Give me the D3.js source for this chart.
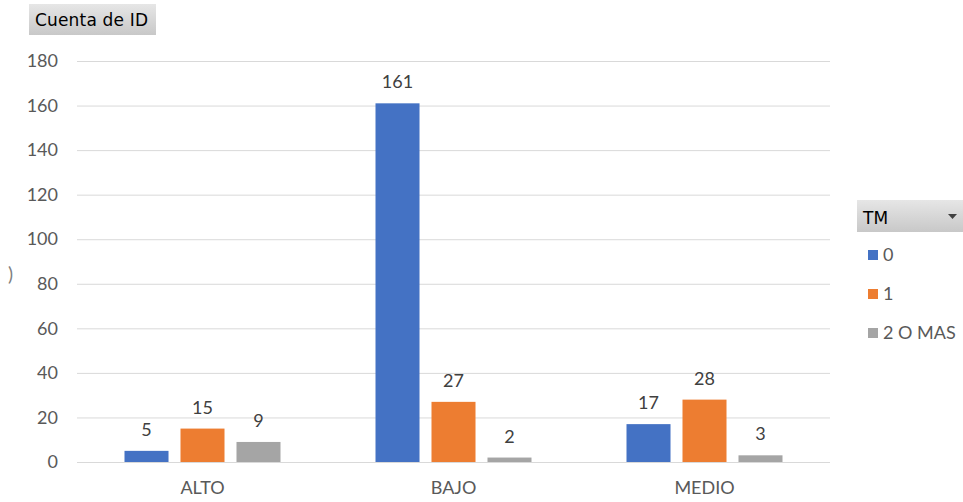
<!DOCTYPE html>
<html>
<head>
<meta charset="utf-8">
<script src="https://cdn.jsdelivr.net/npm/d3@7"></script>
<style>
  html, body { margin: 0; padding: 0; background: #fff; }
  svg { display: block; font-family: Lato, "Open Sans", sans-serif; }
</style>
</head>
<body>
<svg id="chart" width="963" height="502"></svg>
<script>
// Category labels along the x axis
const categories = ["ALTO", "BAJO", "MEDIO"];
// Series keys (TM field values)
const seriesNames = ["0", "1", "2 O MAS"];
// Counts per series, in category order
const values0 = [5, 161, 17];
const values1 = [15, 27, 28];
const values2 = [9, 2, 3];
// Y axis ticks
const yTicks = [0, 20, 40, 60, 80, 100, 120, 140, 160, 180];

const colors = ["#4472C4", "#ED7D31", "#A5A5A5"];
const seriesValues = [values0, values1, values2];

const svg = d3.select("#chart");

const plot = { left: 77, right: 830, top: 61, bottom: 462 };

const x0 = d3.scaleBand().domain(categories).range([plot.left, plot.right]).padding(0);
const x1 = d3.scaleBand().domain(seriesNames).range([47.5, x0.bandwidth() - 47.5]).paddingInner(0.214);
const y = d3.scaleLinear().domain([0, 180]).range([plot.bottom, plot.top]);

// Gridlines
svg.append("g")
  .selectAll("line")
  .data(yTicks)
  .join("line")
  .attr("x1", plot.left).attr("x2", plot.right)
  .attr("y1", d => y(d) + 0.5).attr("y2", d => y(d) + 0.5)
  .attr("stroke", "#d9d9d9").attr("stroke-width", 1);

// Y axis labels
const yAxis = svg.append("g")
  .attr("transform", `translate(${plot.left - 19},0)`)
  .call(d3.axisLeft(y).tickValues(yTicks).tickSize(0).tickPadding(0));
yAxis.select(".domain").remove();
yAxis.selectAll("text")
  .attr("fill", "#595959").attr("font-size", 18)
  .attr("font-family", "Lato, 'Open Sans', sans-serif");

// X axis labels
const xAxis = svg.append("g")
  .attr("transform", `translate(0,${plot.bottom})`)
  .call(d3.axisBottom(x0).tickSize(0).tickPadding(19));
xAxis.select(".domain").remove();
xAxis.selectAll("text")
  .attr("fill", "#595959").attr("font-size", 18)
  .attr("font-family", "Lato, 'Open Sans', sans-serif");

// Bars
const rows = [];
categories.forEach((c, i) => {
  seriesNames.forEach((s, j) => {
    rows.push({ cat: c, series: s, value: seriesValues[j][i], color: colors[j] });
  });
});

svg.append("g")
  .selectAll("rect")
  .data(rows)
  .join("rect")
  .attr("x", d => x0(d.cat) + x1(d.series))
  .attr("y", d => y(d.value))
  .attr("width", x1.bandwidth())
  .attr("height", d => y(0) - y(d.value))
  .attr("fill", d => d.color);

// Value labels
svg.append("g")
  .selectAll("text")
  .data(rows)
  .join("text")
  .attr("x", d => x0(d.cat) + x1(d.series) + x1.bandwidth() / 2)
  .attr("y", d => y(d.value) - 15)
  .attr("text-anchor", "middle")
  .attr("fill", "#404040")
  .attr("font-size", 18)
  .text(d => d.value);

// Axis baseline
svg.append("line")
  .attr("x1", plot.left).attr("x2", plot.right)
  .attr("y1", plot.bottom + 0.5).attr("y2", plot.bottom + 0.5)
  .attr("stroke", "#d9d9d9");

// Field button gradient
const defs = svg.append("defs");
const grad = defs.append("linearGradient").attr("id", "btnGrad")
  .attr("x1", 0).attr("y1", 0).attr("x2", 0).attr("y2", 1);
grad.append("stop").attr("offset", "0%").attr("stop-color", "#e6e6e6");
grad.append("stop").attr("offset", "100%").attr("stop-color", "#c8c8c8");

// "Cuenta de ID" value field button
svg.append("rect")
  .attr("x", 29).attr("y", 4).attr("width", 127).attr("height", 31)
  .attr("fill", "url(#btnGrad)");
svg.append("text")
  .attr("x", 35).attr("y", 26)
  .attr("font-family", "'DejaVu Sans', Tahoma, sans-serif")
  .attr("font-size", 17)
  .attr("textLength", 113)
  .attr("fill", "#000")
  .text("Cuenta de ID");

// Clipped axis title fragment on the left edge
svg.append("text")
  .attr("x", 8).attr("y", 281)
  .attr("font-size", 19)
  .attr("fill", "#7f7f7f")
  .text(")");

// Legend field button "TM"
svg.append("rect")
  .attr("x", 857).attr("y", 200).attr("width", 106).attr("height", 32)
  .attr("fill", "url(#btnGrad)");
svg.append("text")
  .attr("x", 863).attr("y", 224)
  .attr("font-family", "'DejaVu Sans', Tahoma, sans-serif")
  .attr("font-size", 17)
  .attr("fill", "#000")
  .text("TM");
svg.append("path")
  .attr("d", "M948,214 L957,214 L952.5,219 Z")
  .attr("fill", "#404040");

// Legend items
const legend = svg.append("g")
  .selectAll("g")
  .data(seriesNames)
  .join("g")
  .attr("transform", (d, i) => `translate(868,${250 + i * 39})`);
legend.append("rect")
  .attr("width", 10).attr("height", 10)
  .attr("fill", (d, i) => colors[i]);
legend.append("text")
  .attr("x", 15).attr("y", 11)
  .attr("font-size", 18)
  .attr("fill", "#595959")
  .text(d => d);
</script>
</body>
</html>
